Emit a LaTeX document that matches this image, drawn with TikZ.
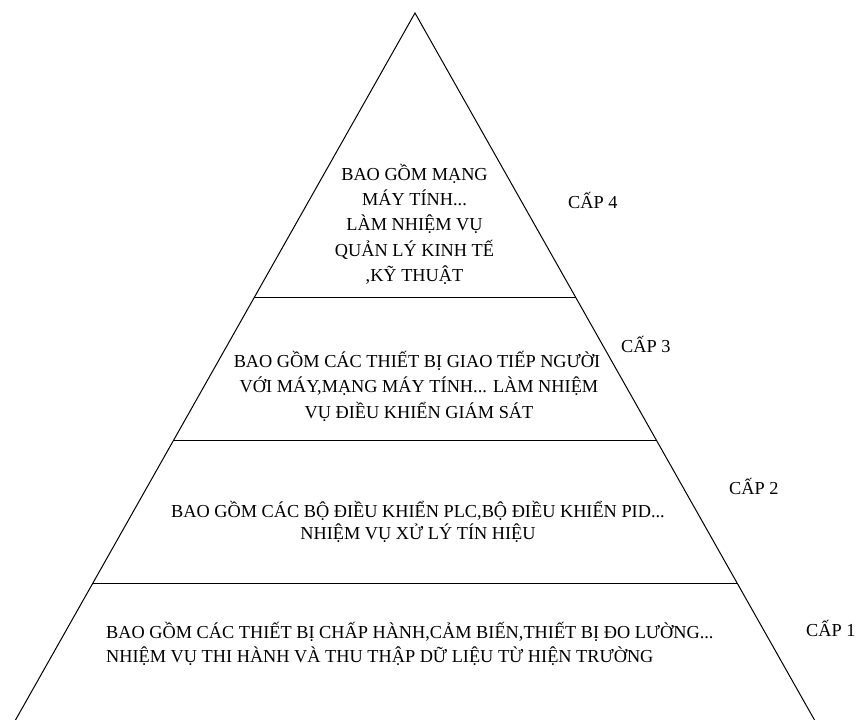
\documentclass[tikz,border=0pt]{standalone}
\usepackage{fontspec}
\setmainfont{Liberation Serif}
\begin{document}
\begin{tikzpicture}[x=1pt,y=-1pt,
  edge/.style={line width=1pt,black},
  txt/.style={font=\fontsize{18.3}{22}\selectfont,inner sep=0pt,anchor=base},
  lefttxt/.style={txt,anchor=base west}]
\useasboundingbox (0,0) rectangle (857,720);
% triangle corners
\coordinate (apex) at (415,13);
\coordinate (bl) at (15.5,720);
\coordinate (br) at (814.5,720);
\coordinate (l1) at (254.5,297);
\coordinate (r1) at (575.5,297);
\coordinate (l2) at (173.7,440);
\coordinate (r2) at (656.3,440);
\coordinate (l3) at (92.9,583);
\coordinate (r3) at (737.1,583);
\draw[edge] (bl) -- (apex) -- (br);
\draw[edge] (l1) -- (r1);
\draw[edge] (l2) -- (r2);
\draw[edge] (l3) -- (r3);
% level 4
\node[txt] (t4a) at (414.5,180) {BAO GỒM MẠNG};
\node[txt] (t4b) at (414.5,205) {MÁY TÍNH...};
\node[txt] (t4c) at (414.5,230) {LÀM NHIỆM VỤ};
\node[txt] (t4d) at (414.5,256) {QUẢN LÝ KINH TẾ};
\node[txt] (t4e) at (414.5,281) {,KỸ THUẬT};
\node[lefttxt] (c4) at (568,208) {CẤP 4};
% level 3
\node[txt] (t3a) at (417,367) {BAO GỒM CÁC THIẾT BỊ GIAO TIẾP NGƯỜI};
\node[txt] (t3b) at (419,392) {VỚI MÁY,MẠNG MÁY TÍNH... LÀM NHIỆM};
\node[txt] (t3c) at (419,418) {VỤ ĐIỀU KHIỂN GIÁM SÁT};
\node[lefttxt] (c3) at (621,352) {CẤP 3};
% level 2
\node[txt] (t2a) at (418,517) {BAO GỒM CÁC BỘ ĐIỀU KHIỂN PLC,BỘ ĐIỀU KHIỂN PID...};
\node[txt] (t2b) at (418,539) {NHIỆM VỤ XỬ LÝ TÍN HIỆU};
\node[lefttxt] (c2) at (729,494) {CẤP 2};
% level 1
\node[lefttxt] (t1a) at (106,638) {BAO GỒM CÁC THIẾT BỊ CHẤP HÀNH,CẢM BIẾN,THIẾT BỊ ĐO LƯỜNG...};
\node[lefttxt] (t1b) at (106,662) {NHIỆM VỤ THI HÀNH VÀ THU THẬP DỮ LIỆU TỪ HIỆN TRƯỜNG};
\node[lefttxt] (c1) at (806,636) {CẤP 1};
\end{tikzpicture}
\end{document}
